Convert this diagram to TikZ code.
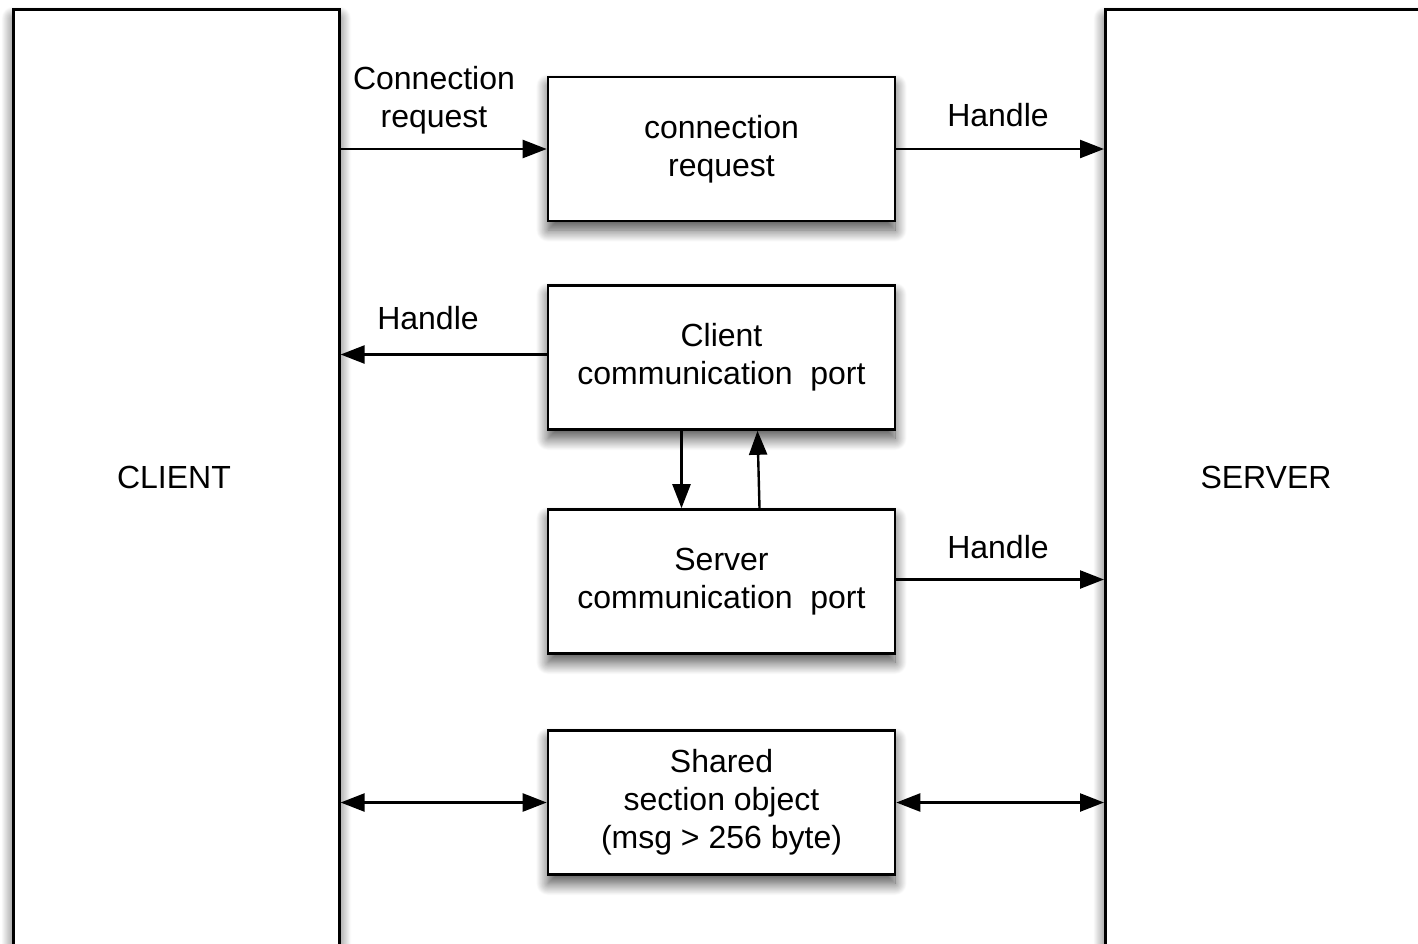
\documentclass[tikz,border=0pt]{standalone}
\usepackage{fontspec}
\setmainfont{Liberation Sans}
\usetikzlibrary{arrows.meta,shadows.blur}
\begin{document}
\begin{tikzpicture}[x=1pt,y=-1pt,
  every node/.style={font=\fontsize{32}{38}\selectfont, align=center, text=black},
  shade box/.style={blur shadow={shadow xshift=0pt, shadow yshift=-9pt,
      shadow blur radius=12pt, shadow blur steps=18, shadow opacity=70}},
  partybox/.style={draw, line width=2.6pt, fill=white, shade box,
      minimum width=326pt, minimum height=980pt, anchor=north west, inner sep=0pt},
  objbox/.style={draw, line width=2.6pt, fill=white, shade box,
      minimum width=347pt, minimum height=144pt, inner sep=0pt},
  tip/.tip={Triangle[length=24pt,width=18pt]},
  arr/.style={line width=2.4pt, -tip},
  darr/.style={line width=2.4pt, tip-tip},
  lbl/.style={inner sep=0pt}]
\useasboundingbox (0,0) rectangle (1418,943);

% client and server processes
\node[partybox] (client) at (12,8) {};
\node[partybox, minimum width=400pt] (server) at (1104,8) {};
\node[lbl] (clientname) at (174,477) {CLIENT};
\node[lbl] (servername) at (1266,477) {SERVER};

% kernel objects in between
\node[objbox] (req)   at (721.5,149)   {connection\\request};
\node[objbox] (cport) at (721.5,357.5) {Client\\communication\ \ port};
\node[objbox] (sport) at (721.5,581.5) {Server\\communication\ \ port};
\node[objbox] (shm)   at (721.5,802.5) {Shared\\section object\\(msg > 256 byte)};

% attachment points of the port connectors
\coordinate (cportout) at ([yshift=3pt]cport.west);
\coordinate (sportout) at ([yshift=2pt]sport.east);
\coordinate (downtop) at ([xshift=-40pt]cport.south);
\coordinate (downbot) at ([xshift=-40pt]sport.north);
\coordinate (uptop) at ([xshift=36pt]cport.south);
\coordinate (upbot) at ([xshift=38pt]sport.north);

% connectors
\draw[arr] (client.east |- req.west) -- (req.west);
\draw[arr] (req.east) -- (server.west |- req.east);
\draw[arr] (cportout) -- (client.east |- cportout);
\draw[arr] (downtop) -- (downbot);
\draw[arr] (upbot) -- (uptop);
\draw[arr] (sportout) -- (server.west |- sportout);
\draw[darr] (client.east |- shm.west) -- (shm.west);
\draw[darr] (shm.east) -- (server.west |- shm.east);

% connector labels
\node[lbl] (lreq) at (434,100.5) {Connection\\request};
\node[lbl] (lh1) at (998,115) {Handle};
\node[lbl] (lh2) at (428,318) {Handle};
\node[lbl] (lh3) at (998,547) {Handle};
\end{tikzpicture}
\end{document}
